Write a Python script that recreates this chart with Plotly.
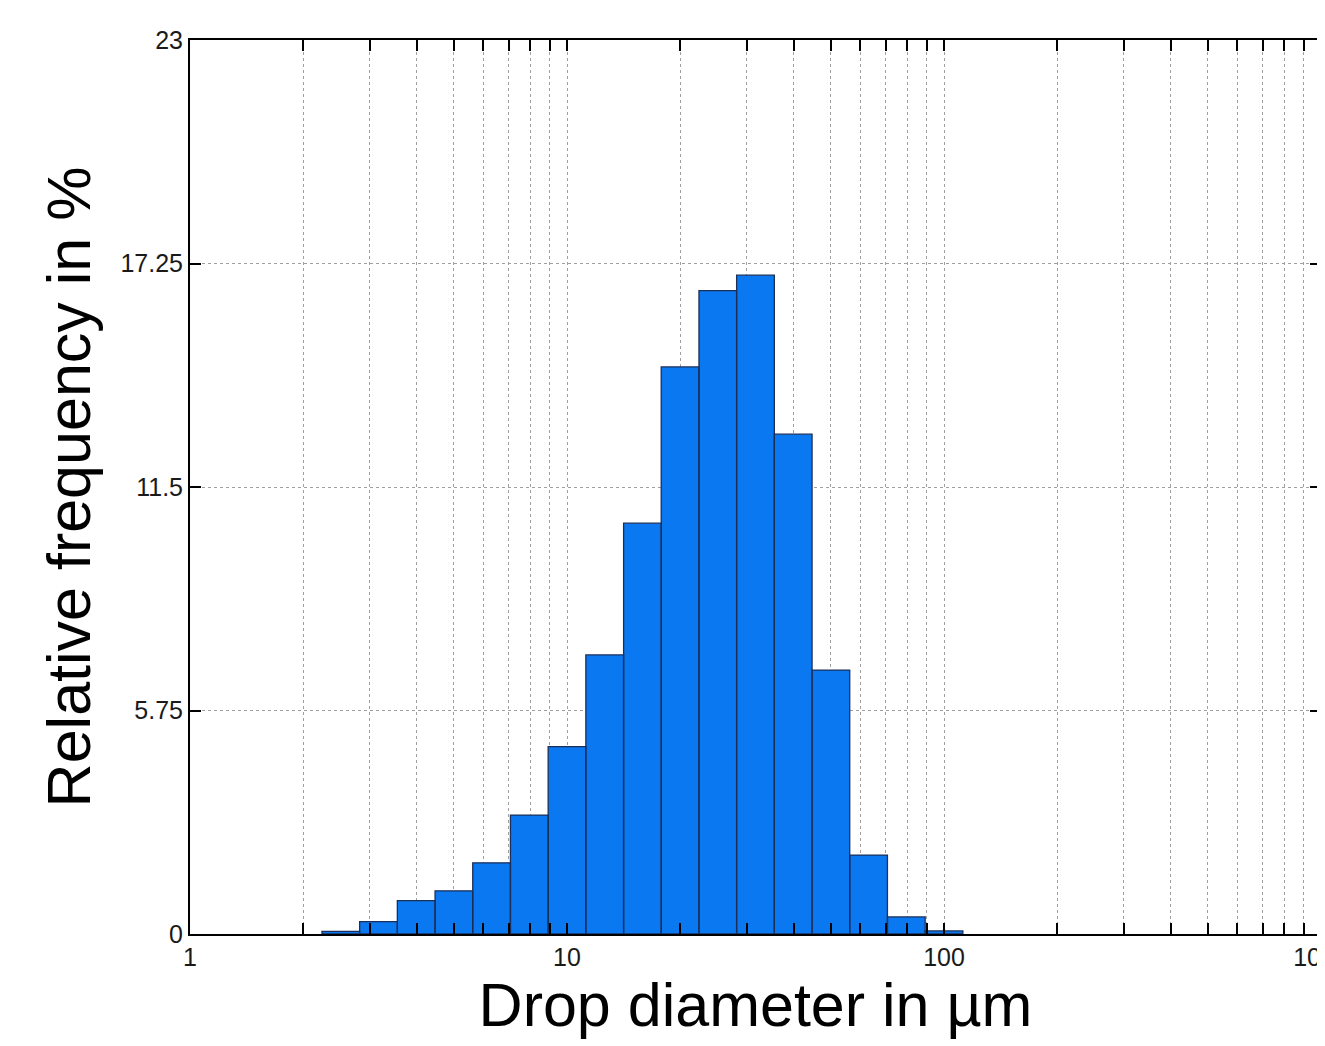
import plotly.graph_objects as go

# Bin edges (drop diameter, µm), log-spaced
bin_edges = [2.239, 2.818, 3.548, 4.467, 5.623, 7.079, 8.913, 11.22, 14.13,
             17.78, 22.39, 28.18, 35.48, 44.67, 56.23, 70.79, 89.13, 112.2]
# Relative frequency per bin (%)
rel_freq = [0.07, 0.32, 0.86, 1.11, 1.83, 3.06, 4.82, 7.18, 10.57,
            14.59, 16.55, 16.95, 12.86, 6.79, 2.03, 0.44, 0.08]

x_major_ticks = [1, 10, 100, 1000]
x_major_labels = ["1", "10", "100", "1000"]
x_minor_ticks = [2, 3, 4, 5, 6, 7, 8, 9, 20, 30, 40, 50, 60, 70, 80, 90,
                 200, 300, 400, 500, 600, 700, 800, 900]
y_ticks = [0, 5.75, 11.5, 17.25, 23]
y_labels = ["0", "5.75", "11.5", "17.25", "23"]

xs, ys = [], []
for i, v in enumerate(rel_freq):
    x0, x1 = bin_edges[i], bin_edges[i + 1]
    xs += [x0, x0, x1, x1, x0, None]
    ys += [0, v, v, 0, 0, None]

fig = go.Figure()
fig.add_trace(go.Scatter(
    x=xs, y=ys, mode="lines", fill="toself",
    fillcolor="#0a78f0",
    line=dict(color="#1b2f5a", width=1.3),
    hoverinfo="skip", showlegend=False,
))

font_family = "Liberation Sans, Arial, sans-serif"

fig.update_layout(
    width=1317, height=1038,
    margin=dict(l=182, r=4, t=32, b=112, autoexpand=False),
    paper_bgcolor="white", plot_bgcolor="white",
    font=dict(family=font_family, color="#1a1a1a"),
    showlegend=False,
)

fig.update_xaxes(
    type="log", range=[0, 3],
    tickvals=x_major_ticks, ticktext=x_major_labels,
    ticks="inside", ticklen=11, tickwidth=2, tickcolor="black",
    tickfont=dict(size=25, color="#1a1a1a"),
    ticklabeloverflow="allow",
    showline=True, linecolor="black", linewidth=2, mirror="ticks",
    showgrid=True, gridcolor="#a0a0a0", griddash="dot", gridwidth=1,
    minor=dict(tickvals=x_minor_ticks, ticks="inside", ticklen=11,
               tickwidth=2, tickcolor="black",
               showgrid=True, gridcolor="#a0a0a0", griddash="dot", gridwidth=1),
    zeroline=False, automargin=False,
    title=dict(text="Drop diameter in µm", font=dict(size=61, color="black"),
               standoff=4),
)

fig.update_yaxes(
    range=[0, 23],
    tickvals=y_ticks, ticktext=y_labels,
    ticks="inside", ticklen=11, tickwidth=2, tickcolor="black",
    tickfont=dict(size=25, color="#1a1a1a"),
    showline=True, linecolor="black", linewidth=2, mirror="ticks",
    showgrid=True, gridcolor="#a0a0a0", griddash="dot", gridwidth=1,
    zeroline=False, automargin=False,
    title=dict(text="Relative frequency in %", font=dict(size=61, color="black"),
               standoff=10),
)

fig.write_html("out.html")
